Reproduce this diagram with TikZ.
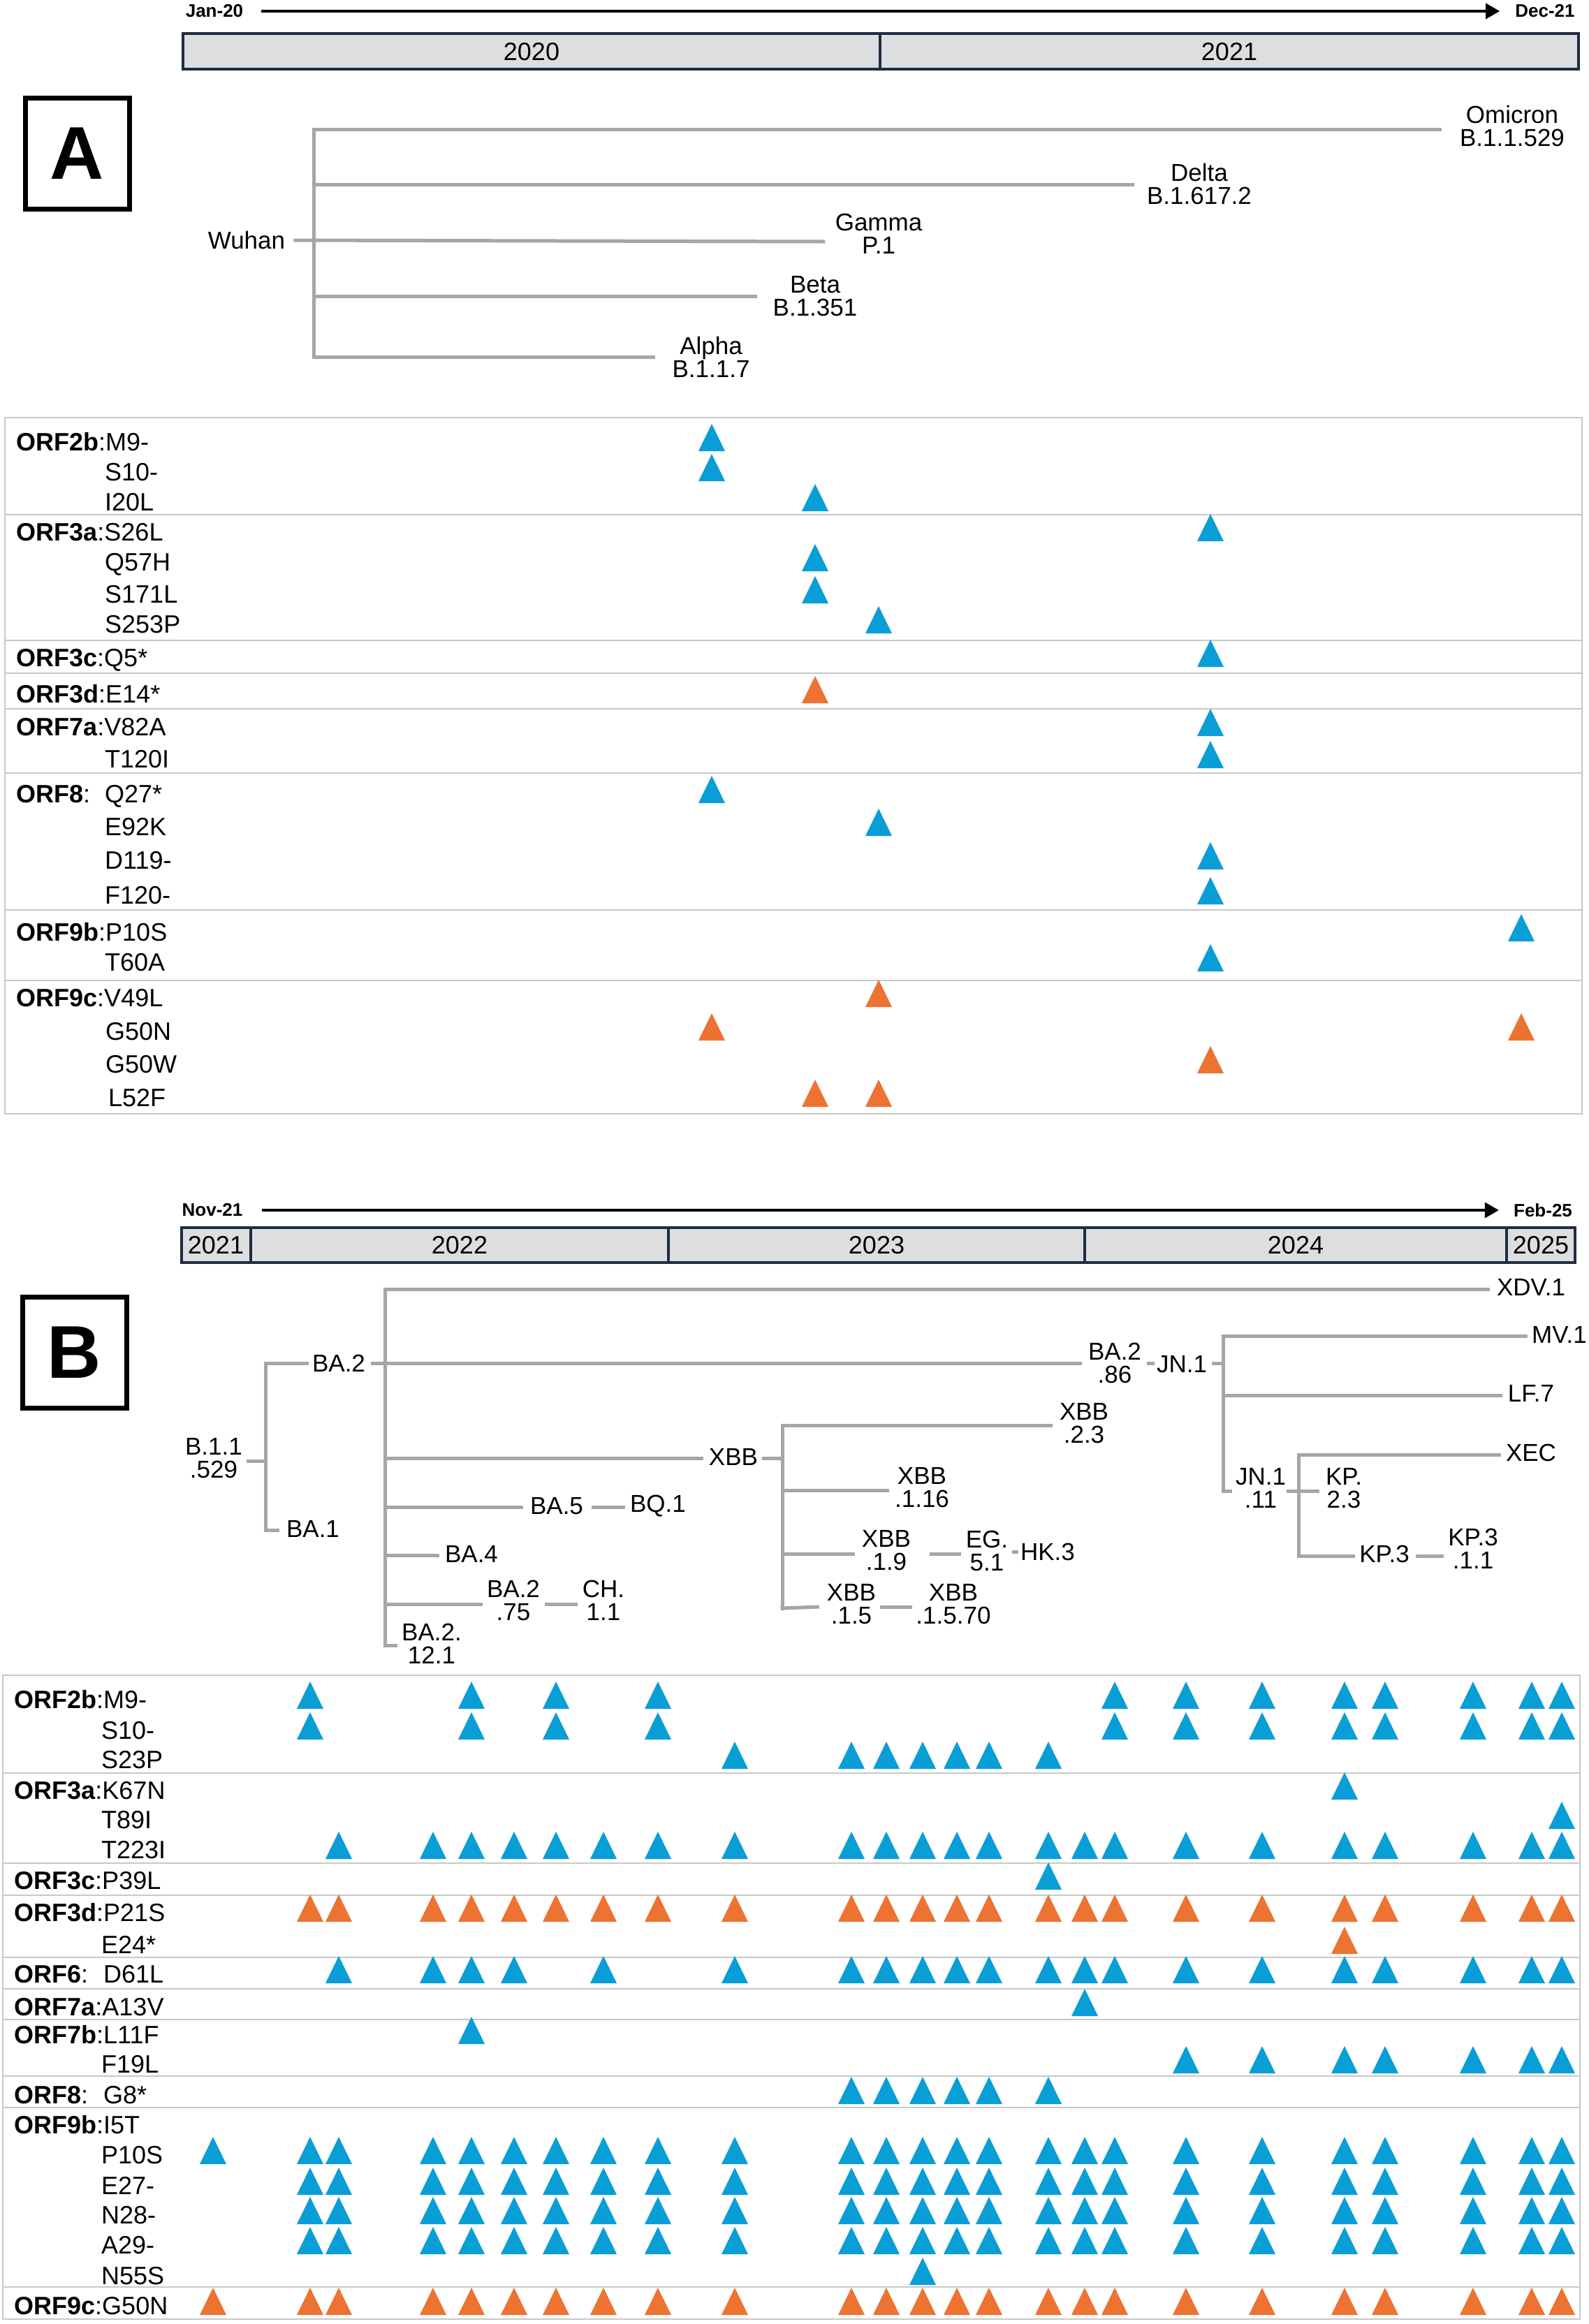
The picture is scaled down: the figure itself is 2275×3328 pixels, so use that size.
\documentclass[tikz,border=0pt]{standalone}
\usepackage{fontspec}
\setmainfont{Liberation Sans}
\usetikzlibrary{arrows.meta}
\definecolor{treegray}{RGB}{166,166,166}
\definecolor{gridgray}{RGB}{200,200,200}
\definecolor{barfill}{RGB}{221,222,224}
\definecolor{barline}{RGB}{31,45,64}
\definecolor{triblue}{RGB}{10,158,215}
\definecolor{triorange}{RGB}{237,115,50}
\newcommand\fL{\fontsize{36}{40}\selectfont}
\newcommand\fT{\fontsize{35}{33}\selectfont}
\newcommand\fS{\fontsize{26}{28}\selectfont\bfseries}
\newcommand\fBig{\fontsize{107}{107}\selectfont\bfseries}
\newcommand\mytri[3]{\fill[#3] ({#1-19},{#2+14}) -- ({#1},{#2-25}) -- ({#1+19},{#2+14}) -- cycle;}
\def\colsB{{0,305,444,485,620,675,736,796,864,942,1052,1219,1269,1321,1370,1416,1501,1553,1596,1698,1807,1925,1983,2109,2193,2236}}
\newcommand\rowB[3]{\foreach \k in {#2}{\pgfmathsetmacro\cx{\colsB[\k]}\mytri{\cx}{#1}{#3}}}
\begin{document}
\begin{tikzpicture}[x=1pt,y=-1pt,
  tline/.style={draw=treegray,line width=5pt},
  gline/.style={draw=gridgray,line width=2pt},
  bar/.style={draw=barline,fill=barfill,line width=4pt},
  ylab/.style={font=\fL,inner sep=0pt},
  tlab/.style={font=\fT,inner sep=0pt,align=center},
  glab/.style={font=\fL,inner sep=0pt,anchor=base west},
  datelab/.style={font=\fS,inner sep=0pt},
  tarrow/.style={draw=black,line width=3.5pt,-{Triangle[length=20pt,width=22pt]}},
  panelbox/.style={draw=black,line width=7pt,minimum width=149pt,minimum height=159pt,inner sep=0pt,font=\fBig}
]
\useasboundingbox (0,0) rectangle (2275,3328);
\fill[white] (0,0) rectangle (2275,3328);

%% ================= PANEL A =================
\node[datelab] (jan) at (307,16) {Jan-20};
\node[datelab] (dec) at (2212,16) {Dec-21};
\draw[tarrow,shorten <=26pt,shorten >=22pt] (jan.east) -- (dec.west);
\draw[bar] (262,48) rectangle (1260,99);
\draw[bar] (1260,48) rectangle (2260,99);
\node[ylab] (y2020) at (761,74) {2020};
\node[ylab] (y2021) at (1760,74) {2021};

\node[panelbox] (boxA) at (110.5,219.5) {A};

% tree A
\coordinate (aTop) at (449,185);
\coordinate (aBot) at (449,511);
\coordinate (aOmi) at (2064,185);
\coordinate (aDelJ) at (449,264);
\coordinate (aDel) at (1624,264);
\coordinate (aWuJ) at (449,346);
\coordinate (aGam) at (1181,346);
\coordinate (aBetJ) at (449,424);
\coordinate (aBet) at (1084,424);
\coordinate (aAlp) at (938,509);
\node[tlab] (wuhan) at (353,344) {Wuhan};
\node[tlab] (omi) at (2165,180) {Omicron\\B.1.1.529};
\node[tlab] (delta) at (1717,263) {Delta\\B.1.617.2};
\node[tlab] (gamma) at (1258,335) {Gamma\\P.1};
\node[tlab] (beta) at (1167,424) {Beta\\B.1.351};
\node[tlab] (alpha) at (1018,511) {Alpha\\B.1.1.7};
\draw[tline] (aTop) -- (aBot);
\draw[tline] ([xshift=-2.5pt]aTop) -- (aOmi);
\draw[tline] (aDelJ) -- (aDel);
\draw[tline] ([xshift=12pt]wuhan.east) -- (aGam);
\draw[tline] (aBetJ) -- (aBet);
\draw[tline] ([xshift=-2.5pt]aBot) -- (aAlp |- aBot);

% grid A
\draw[gline] (7,598) rectangle (2265,1595);
\foreach \yy in {737,917,964,1015,1107,1303,1404} {\draw[gline] (7,\yy) -- (2265,\yy);}

\node[glab] (a2b) at (23,645) {\textbf{ORF2b}:M9-};
\node[glab] (a2b2) at (150,688) {S10-};
\node[glab] (a2b3) at (150,731) {I20L};
\node[glab] (a3a) at (23,774) {\textbf{ORF3a}:S26L};
\node[glab] (a3a2) at (150,817) {Q57H};
\node[glab] (a3a3) at (150,863) {S171L};
\node[glab] (a3a4) at (150,906) {S253P};
\node[glab] (a3c) at (23,954) {\textbf{ORF3c}:Q5*};
\node[glab] (a3d) at (23,1006) {\textbf{ORF3d}:E14*};
\node[glab] (a7a) at (23,1053) {\textbf{ORF7a}:V82A};
\node[glab] (a7a2) at (150,1099) {T120I};
\node[glab] (a8) at (23,1149) {\textbf{ORF8}:};
\node[glab] (a8m) at (150,1149) {Q27*};
\node[glab] (a8b) at (150,1196) {E92K};
\node[glab] (a8c) at (150,1244) {D119-};
\node[glab] (a8d) at (150,1294) {F120-};
\node[glab] (a9b) at (23,1347) {\textbf{ORF9b}:P10S};
\node[glab] (a9b2) at (150,1390) {T60A};
\node[glab] (a9c) at (23,1441) {\textbf{ORF9c}:V49L};
\node[glab] (a9c2) at (151,1489) {G50N};
\node[glab] (a9c3) at (151,1536) {G50W};
\node[glab] (a9c4) at (155,1584) {L52F};

\foreach \xx/\yy/\cc in {1019/632/triblue,1019/675/triblue,1167/718/triblue,1733/761/triblue,
  1167/804/triblue,1167/850/triblue,1258/893/triblue,1733/941/triblue,1167/993/triorange,
  1733/1040/triblue,1733/1086/triblue,1019/1136/triblue,1258/1183/triblue,1733/1231/triblue,
  1733/1281/triblue,2178/1334/triblue,1733/1377/triblue,1258/1428/triorange,1019/1476/triorange,
  2178/1476/triorange,1733/1523/triorange,1167/1571/triorange,1258/1571/triorange}
  {\mytri{\xx}{\yy}{\cc}}

%% ================= PANEL B =================
\node[datelab] (nov) at (304,1733) {Nov-21};
\node[datelab] (feb) at (2209,1733) {Feb-25};
\draw[tarrow,shorten <=27pt,shorten >=21pt] (nov.east) -- (feb.west);
\draw[bar] (260,1758) rectangle (359,1808);
\draw[bar] (359,1758) rectangle (957,1808);
\draw[bar] (957,1758) rectangle (1553,1808);
\draw[bar] (1553,1758) rectangle (2157,1808);
\draw[bar] (2157,1758) rectangle (2255,1808);
\node[ylab] (b2021) at (309,1783) {2021};
\node[ylab] (b2022) at (658,1783) {2022};
\node[ylab] (b2023) at (1255,1783) {2023};
\node[ylab] (b2024) at (1855,1783) {2024};
\node[ylab] (b2025) at (2206,1783) {2025};

\node[panelbox] (boxB) at (106.5,1936.5) {B};

% tree B labels
\node[tlab] (b529) at (306,2088) {B.1.1\\.529};
\node[tlab] (ba2) at (485,1952) {BA.2};
\node[tlab] (ba1) at (448,2189) {BA.1};
\node[tlab] (xdv) at (2192,1843) {XDV.1};
\node[tlab] (xbb) at (1050,2086) {XBB};
\node[tlab] (xbb23) at (1552,2038) {XBB\\.2.3};
\node[tlab] (xbb116) at (1320,2130) {XBB\\.1.16};
\node[tlab] (xbb19) at (1269,2220) {XBB\\.1.9};
\node[tlab] (eg51) at (1413,2221) {EG.\\5.1};
\node[tlab] (hk3) at (1500,2222) {HK.3};
\node[tlab] (xbb15) at (1219,2297) {XBB\\.1.5};
\node[tlab] (xbb1570) at (1365,2297) {XBB\\.1.5.70};
\node[tlab] (ba5) at (797,2157) {BA.5};
\node[tlab] (bq1) at (942,2157) {BQ.1};
\node[tlab] (ba4) at (675,2225) {BA.4};
\node[tlab] (ba275) at (735,2292) {BA.2\\.75};
\node[tlab] (ch11) at (864,2292) {CH.\\1.1};
\node[tlab] (ba2121) at (618,2354) {BA.2.\\12.1};
\node[tlab] (ba286) at (1596,1952) {BA.2\\.86};
\node[tlab] (jn1) at (1692,1954) {JN.1};
\node[tlab,anchor=west] (mv1) at (2193,1911) {MV.1};
\node[tlab] (lf7) at (2192,1995) {LF.7};
\node[tlab] (jn111) at (1805,2131) {JN.1\\.11};
\node[tlab] (kp23) at (1924,2131) {KP.\\2.3};
\node[tlab] (xec) at (2192,2080) {XEC};
\node[tlab] (kp3) at (1982,2225) {KP.3};
\node[tlab] (kp311) at (2109,2218) {KP.3\\.1.1};

% tree B junction coordinates
\coordinate (jR1) at (380,1952);
\coordinate (jR2) at (380,2191);
\coordinate (jM1) at (551,1846);
\coordinate (jM2) at (551,2356);
\coordinate (jX1) at (1120,2041);
\coordinate (jX2) at (1120,2303);
\coordinate (jJ1) at (1751,1913);
\coordinate (jJ2) at (1751,2135);
\coordinate (jK1) at (1859,2083);
\coordinate (jK2) at (1859,2228);

\draw[tline] (353,2092) -- (jR1 |- 0,2092);
\draw[tline] ([yshift=2.5pt]jR1) -- ([yshift=-2.5pt]jR2);
\draw[tline] ([xshift=-2.5pt]jR1) -- (442,1952);
\draw[tline] ([xshift=-2.5pt]jR2) -- (400,2191);
\draw[tline] (531,1952) -- (1549,1952);
\draw[tline] ([yshift=2.5pt]jM1) -- ([yshift=-2.5pt]jM2);
\draw[tline] ([xshift=-2.5pt]jM1) -- (2133,1846);
\draw[tline] (551,2088) -- (1007,2088);
\draw[tline] (1091,2088) -- (1120,2088);
\draw[tline] ([yshift=2.5pt]jX1) -- ([yshift=-2.5pt]jX2);
\draw[tline] ([xshift=-2.5pt]jX1) -- (1507,2041);
\draw[tline] (1120,2134) -- (1273,2134);
\draw[tline] (1120,2225) -- (1224,2225);
\draw[tline] (1331,2225) -- (1376,2225);
\draw[tline] (1449,2222) -- (1458,2222);
\draw[tline] ([xshift=-2.5pt]jX2) -- (1173,2301);
\draw[tline] (1260,2301) -- (1306,2301);
\draw[tline] (551,2158) -- (749,2158);
\draw[tline] (847,2158) -- (895,2158);
\draw[tline] (551,2227) -- (629,2227);
\draw[tline] (551,2297) -- (691,2297);
\draw[tline] (780,2297) -- (827,2297);
\draw[tline] ([xshift=-2.5pt]jM2) -- (569,2356);
\draw[tline] (1642,1952) -- (1653,1952);
\draw[tline] (1735,1952) -- (1751,1952);
\draw[tline] ([yshift=2.5pt]jJ1) -- ([yshift=-2.5pt]jJ2);
\draw[tline] ([xshift=-2.5pt]jJ1) -- (2187,1913);
\draw[tline] (1751,1998) -- (2151,1998);
\draw[tline] ([xshift=-2.5pt]jJ2) -- (1764,2135);
\draw[tline] (1842,2135) -- (1889,2135);
\draw[tline] ([yshift=2.5pt]jK1) -- ([yshift=-2.5pt]jK2);
\draw[tline] ([xshift=-2.5pt]jK1) -- (2149,2083);
\draw[tline] ([xshift=-2.5pt]jK2) -- (1940,2228);
\draw[tline] (2027,2228) -- (2067,2228);

% grid B
\draw[gline] (4,2399) rectangle (2262,3321);
\foreach \yy in {2539,2668,2714,2803,2848,2892,2973,3018,3275} {\draw[gline] (4,\yy) -- (2262,\yy);}

\node[glab] (b2b) at (20,2446) {\textbf{ORF2b}:M9-};
\node[glab] (b2b2) at (145,2490) {S10-};
\node[glab] (b2b3) at (145,2532) {S23P};
\node[glab] (b3a) at (20,2576) {\textbf{ORF3a}:K67N};
\node[glab] (b3a2) at (145,2618) {T89I};
\node[glab] (b3a3) at (145,2661) {T223I};
\node[glab] (b3c) at (20,2705) {\textbf{ORF3c}:P39L};
\node[glab] (b3d) at (20,2751) {\textbf{ORF3d}:P21S};
\node[glab] (b3d2) at (145,2797) {E24*};
\node[glab] (b6) at (20,2839) {\textbf{ORF6}:};
\node[glab] (b6m) at (148,2839) {D61L};
\node[glab] (b7a) at (20,2886) {\textbf{ORF7a}:A13V};
\node[glab] (b7b) at (20,2926) {\textbf{ORF7b}:L11F};
\node[glab] (b7b2) at (145,2968) {F19L};
\node[glab] (b8) at (20,3012) {\textbf{ORF8}:};
\node[glab] (b8m) at (148,3012) {G8*};
\node[glab] (b9b) at (20,3055) {\textbf{ORF9b}:I5T};
\node[glab] (b9b2) at (145,3098) {P10S};
\node[glab] (b9b3) at (145,3142) {E27-};
\node[glab] (b9b4) at (145,3184) {N28-};
\node[glab] (b9b5) at (145,3227) {A29-};
\node[glab] (b9b6) at (145,3271) {N55S};
\node[glab] (b9c) at (20,3314) {\textbf{ORF9c}:G50N};

\rowB{2433}{2,5,7,9,18,19,...,25}{triblue}
\rowB{2477}{2,5,7,9,18,19,...,25}{triblue}
\rowB{2519}{10,11,...,16}{triblue}
\rowB{2563}{21}{triblue}
\rowB{2605}{25}{triblue}
\rowB{2648}{3,4,...,25}{triblue}
\rowB{2692}{16}{triblue}
\rowB{2738}{2,3,...,25}{triorange}
\rowB{2784}{21}{triorange}
\rowB{2826}{3,4,5,6,8,10,11,...,25}{triblue}
\rowB{2873}{17}{triblue}
\rowB{2913}{5}{triblue}
\rowB{2955}{19,20,...,25}{triblue}
\rowB{2999}{11,12,...,16}{triblue}
\rowB{3085}{1,2,...,25}{triblue}
\rowB{3129}{2,3,...,25}{triblue}
\rowB{3171}{2,3,...,25}{triblue}
\rowB{3214}{2,3,...,25}{triblue}
\rowB{3258}{13}{triblue}
\rowB{3301}{1,2,...,25}{triorange}
\end{tikzpicture}
\end{document}
